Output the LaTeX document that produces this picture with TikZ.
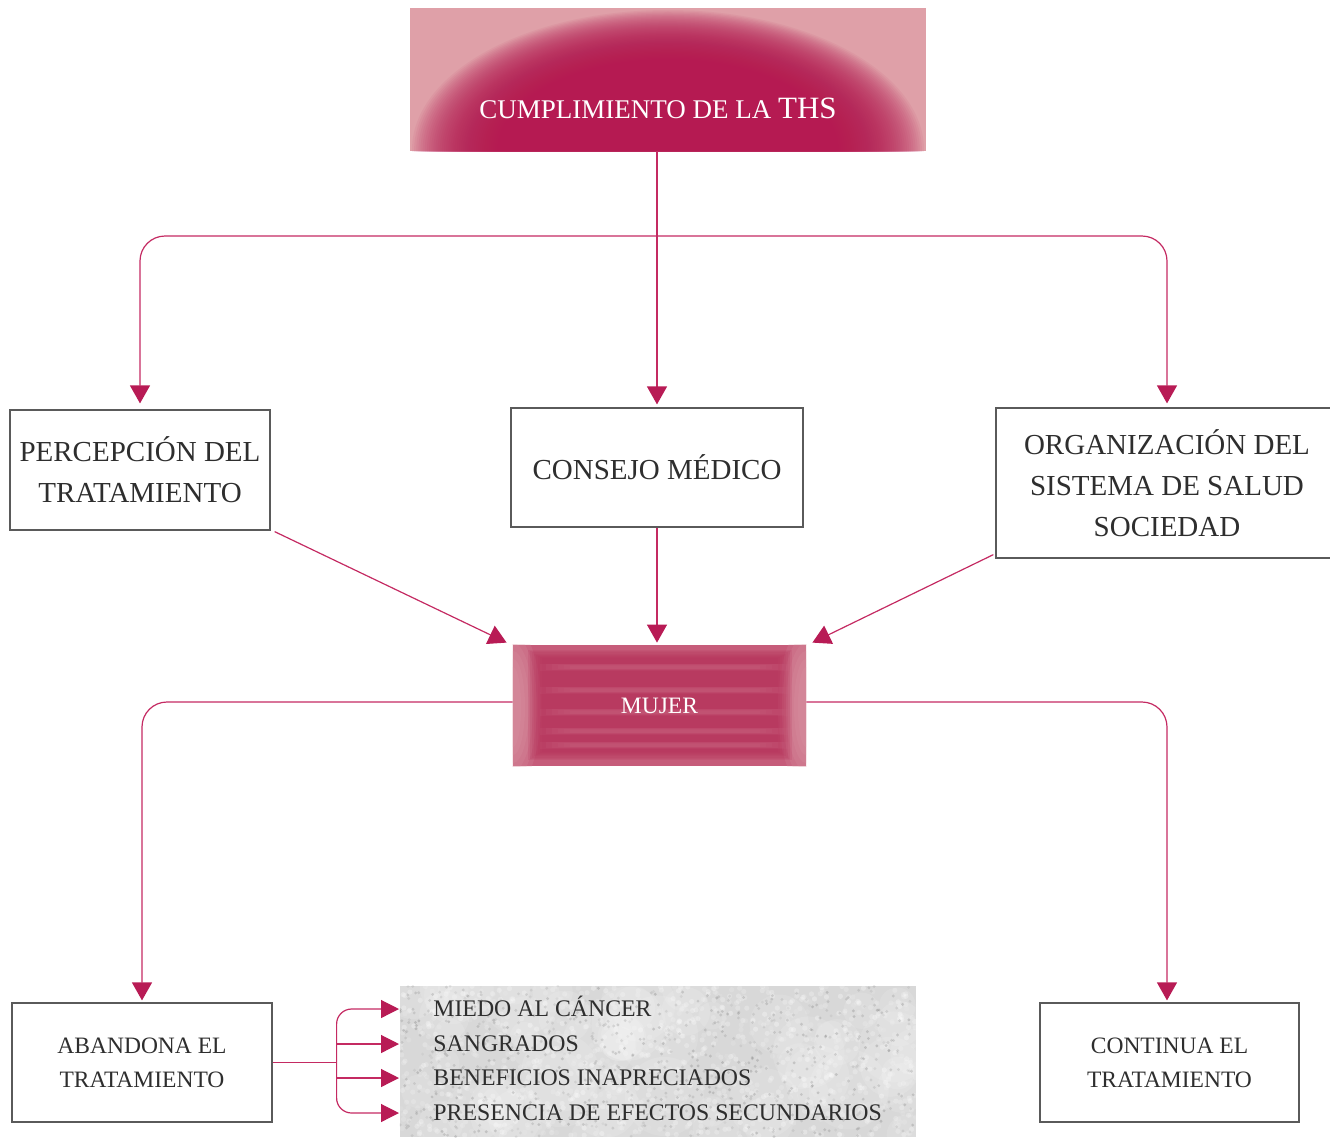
\documentclass[tikz,border=0pt]{standalone}
\usepackage{fontspec}
\setmainfont{Liberation Serif}
\usetikzlibrary{arrows.meta,calc,backgrounds}

\definecolor{ths}{HTML}{B51A52}
\definecolor{thslight}{HTML}{DFA0A8}
\definecolor{wire}{HTML}{C42A62}
\definecolor{tip}{HTML}{B81B55}
\definecolor{frame}{HTML}{5A5A5A}
\definecolor{ink}{HTML}{2E2E2E}
\definecolor{mujbase}{HTML}{C65C7A}
\definecolor{mujglow}{HTML}{DC9CA8}
\definecolor{mujcore}{HTML}{B7335C}
\definecolor{mujstripe}{HTML}{CF6E89}
\definecolor{paper}{HTML}{D8D8D8}

\begin{document}
\begin{tikzpicture}[x=0.5pt,y=-0.5pt,
  box/.style={draw=frame,line width=0.6pt,fill=white,text=ink,align=center,
    inner sep=0pt,font=\fontsize{14.5}{20.5}\selectfont},
  smallbox/.style={box,font=\fontsize{11.75}{17}\selectfont},
  wire/.style={draw=wire,line width=0.6pt},
  arr/.style={wire,-{Triangle[width=10pt,length=9pt,color=tip]}},
  sarr/.style={wire,-{Triangle[width=9pt,length=9pt,color=tip]}},
  item/.style={anchor=west,inner sep=0pt,text=ink,
    font=\fontsize{11.9}{14}\selectfont,text height=7.9pt,text depth=0pt}]

\useasboundingbox (0,0) rectangle (1330,1137);

% ---------- nodes ----------
\node[minimum width=258pt,minimum height=71.5pt,inner sep=0pt] (ths) at (668,79.5) {};
\node[text=white,inner sep=0pt,font=\fontsize{13.5}{16}\selectfont] (thslabel) at (658,108)
  {CUMPLIMIENTO DE LA {\fontsize{15.5}{16}\selectfont THS}};

\node[box,minimum width=130pt,minimum height=60pt] (perc) at (140,470)
  {PERCEPCIÓN DEL\\TRATAMIENTO};
\node[box,minimum width=146pt,minimum height=59.5pt] (consejo) at (657,467.5)
  {CONSEJO MÉDICO};
\node[box,minimum width=171pt,minimum height=75pt] (org) at (1167,483)
  {ORGANIZACIÓN DEL\\SISTEMA DE SALUD\\SOCIEDAD};

\node[text=white,inner sep=0pt,font=\fontsize{11.75}{14}\selectfont,
  minimum width=146.5pt,minimum height=60.5pt] (mujer) at (659.5,705.5) {MUJER};

\node[smallbox,minimum width=130pt,minimum height=59.5pt] (aband) at (142,1062.5)
  {ABANDONA EL\\TRATAMIENTO};
\node[smallbox,minimum width=129.5pt,minimum height=59.5pt] (cont) at (1169.5,1062.5)
  {CONTINUA EL\\TRATAMIENTO};

\node[minimum width=258pt,minimum height=75.5pt,inner sep=0pt] (causas) at (658,1061.5) {};
\node[item] (c1) at (433,1009) {MIEDO AL CÁNCER};
\node[item] (c2) at (433,1044) {SANGRADOS};
\node[item] (c3) at (433,1078) {BENEFICIOS INAPRECIADOS};
\node[item] (c4) at (433,1113) {PRESENCIA DE EFECTOS SECUNDARIOS};

% ---------- fills behind the nodes ----------
\begin{scope}[on background layer]
  % title box: soft dark glow rising from the lower edge
  \fill[thslight] (ths.north west) rectangle (ths.south east);
  \begin{scope}
    \clip (ths.north west) rectangle (ths.south east);
    \foreach \k in {0,...,44}
      \fill[ths,opacity=0.065] (668,150) ellipse [x radius={(128-1.07*\k)*1pt}, y radius={(70-0.62*\k)*1pt}];
  \end{scope}

  % striped MUJER panel
  \fill[mujbase] (mujer.north west) rectangle (mujer.south east);
  \begin{scope}
    \clip (mujer.north west) rectangle (mujer.south east);
    \foreach \k in {0,...,5}{
      \fill[mujglow,opacity=0.18] (513,707) ellipse [x radius={(14-2*\k)*1pt}, y radius={(40-4*\k)*1pt}];
      \fill[mujglow,opacity=0.18] (806,707) ellipse [x radius={(14-2*\k)*1pt}, y radius={(40-4*\k)*1pt}];
    }
    \foreach \k in {0,...,7}
      \fill[mujcore,opacity=0.17] (528+2*\k,650+1.2*\k) rectangle (792-2*\k,760-1.2*\k);
    \foreach \yy in {667,690,712,731,745}
      \foreach \k in {0,...,5}
        \fill[mujstripe,opacity=0.11] (540+6*\k,\yy-3.5+0.4*\k) rectangle (790-6*\k,\yy+3.5-0.4*\k);
  \end{scope}

  % grey paper panel
  \fill[paper] (causas.north west) rectangle (causas.south east);
  \begin{scope}
    \clip (causas.north west) rectangle (causas.south east);
    \pgfmathsetseed{42}
    \foreach \i in {1,...,60}{
      \pgfmathsetmacro\px{400+516*rnd}
      \pgfmathsetmacro\py{986+151*rnd}
      \pgfmathsetmacro\pr{6+14*rnd}
      \fill[white,opacity=0.12] (\px,\py) circle[radius=\pr pt];
    }
    \foreach \i in {1,...,1200}{
      \pgfmathsetmacro\px{400+516*rnd}
      \pgfmathsetmacro\py{986+151*rnd}
      \pgfmathsetmacro\po{0.08+0.22*rnd}
      \fill[white,opacity=\po] (\px,\py) circle[radius=1.3pt];
    }
    \foreach \i in {1,...,700}{
      \pgfmathsetmacro\px{400+516*rnd}
      \pgfmathsetmacro\py{986+151*rnd}
      \pgfmathsetmacro\po{0.04+0.1*rnd}
      \fill[black,opacity=\po] (\px,\py) circle[radius=0.8pt];
    }
  \end{scope}
\end{scope}

% ---------- connectors ----------
\coordinate (split) at (consejo.north |- 0,236);
\draw[arr,shorten >=1.5pt] (consejo.north |- ths.south) -- (consejo.north);
\draw[arr,rounded corners=12.5pt,shorten >=3pt] (split) -| (perc.north);
\draw[arr,rounded corners=12.5pt,shorten >=2pt] (split) -| (org.north);

\draw[arr,shorten >=1pt] (consejo.south) -- (consejo.south |- mujer.north);
\draw[arr] ($(perc.south east)+(4,1)$) -- ($(mujer.north west)+(-6,-2)$);
\draw[arr] ($(org.south west)+(-2,-4)$) -- ($(mujer.north east)+(6,-2)$);

\draw[arr,rounded corners=12.5pt,shorten >=1pt] ($(mujer.west)+(0,-3.5)$) -| (aband.north);
\draw[arr,rounded corners=12.5pt,shorten >=1pt] ($(mujer.east)+(0,-3.5)$) -| ($(cont.north)+(-2.5,0)$);

\coordinate (fork) at ($(aband.east)+(64,0)$);
\draw[wire] (aband.east) -- (fork);
\draw[sarr,rounded corners=7.5pt] (fork) |- ($(c1.west)+(-34,0)$);
\draw[sarr,rounded corners=7.5pt] (fork) |- ($(c4.west)+(-34,0)$);
\draw[sarr] (fork |- c2.west) -- ($(c2.west)+(-34,0)$);
\draw[sarr] (fork |- c3.west) -- ($(c3.west)+(-34,0)$);

\end{tikzpicture}
\end{document}
